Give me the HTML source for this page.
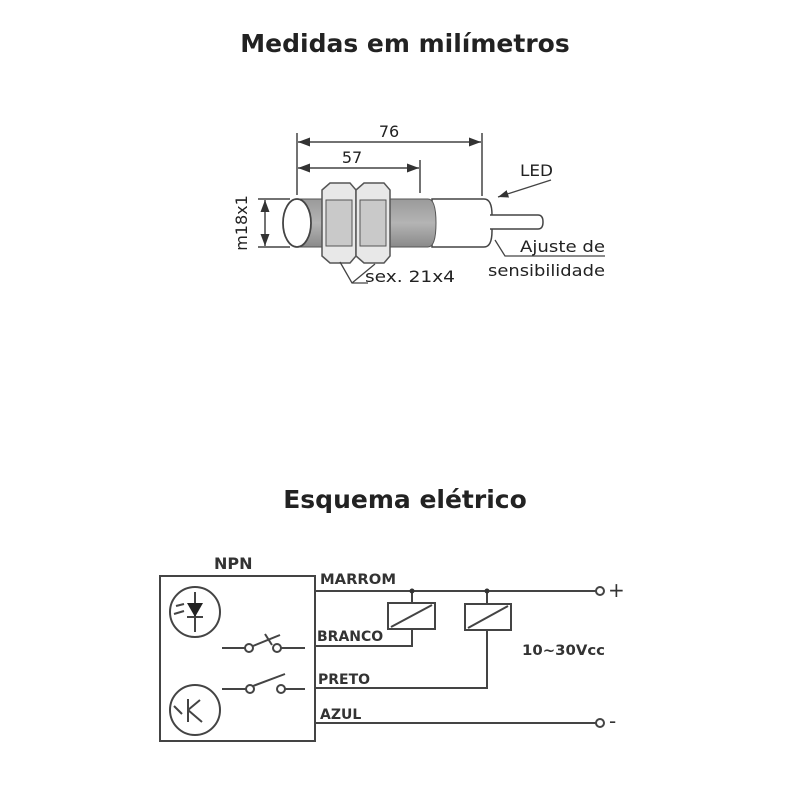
<!DOCTYPE html>
<html><head><meta charset="utf-8"><style>
body{margin:0;background:#fff;}
svg{display:block;}
text{font-family:"DejaVu Sans","Liberation Sans",sans-serif;}
</style></head><body>
<svg width="800" height="800" viewBox="0 0 800 800" xmlns="http://www.w3.org/2000/svg">
<defs>
<linearGradient id="g" x1="0" y1="0" x2="0" y2="1">
<stop offset="0" stop-color="#9a9a9a"/><stop offset="0.5" stop-color="#b4b4b4"/><stop offset="1" stop-color="#8a8a8a"/>
</linearGradient>
<marker id="a" markerWidth="8" markerHeight="6" refX="8" refY="3" orient="auto"><path d="M0,0 L8,3 L0,6z" fill="#333"/></marker>
<marker id="b" markerWidth="8" markerHeight="6" refX="0" refY="3" orient="auto"><path d="M8,0 L0,3 L8,6z" fill="#333"/></marker>
</defs>
<text x="405" y="52" font-size="25" font-weight="bold" text-anchor="middle" fill="#222">Medidas em milímetros</text>
<text x="405" y="508" font-size="25" font-weight="bold" text-anchor="middle" fill="#222">Esquema elétrico</text>

<g stroke="#444" stroke-width="1.5" fill="none">
<line x1="297" y1="133" x2="297" y2="195"/>
<line x1="482" y1="133" x2="482" y2="196"/>
<line x1="420" y1="160" x2="420" y2="193"/>
<line x1="298" y1="142" x2="481" y2="142" marker-start="url(#b)" marker-end="url(#a)"/>
<line x1="298" y1="168" x2="419" y2="168" marker-start="url(#b)" marker-end="url(#a)"/>
<line x1="258" y1="199" x2="290" y2="199"/>
<line x1="258" y1="247" x2="290" y2="247"/>
<line x1="265" y1="200" x2="265" y2="246" marker-start="url(#b)" marker-end="url(#a)"/>
</g>
<text x="389" y="137" font-size="16" text-anchor="middle" fill="#222">76</text>
<text x="352" y="163" font-size="16" text-anchor="middle" fill="#222">57</text>
<text transform="translate(247,223) rotate(-90)" font-size="16" text-anchor="middle" fill="#222">m18x1</text>

<path d="M432,199 L484,199 Q492,199 492,215 L492,231 Q492,247 484,247 L432,247 Z" fill="#fff" stroke="#444" stroke-width="1.5"/>
<path d="M490,215 L538,215 Q543,215 543,222 Q543,229 538,229 L490,229" fill="#fff" stroke="#444" stroke-width="1.5"/>
<path d="M297,199 L428,199 Q436,199 436,223 Q436,247 428,247 L297,247 Z" fill="url(#g)" stroke="#555" stroke-width="1"/>
<g fill="#e8e8e8" stroke="#555" stroke-width="1.5">
<path d="M322,190 L330,183 L350,183 L356,190 L356,256 L350,263 L330,263 L322,256 Z"/>
<path d="M326,200 L352,200 L352,246 L326,246 Z" fill="#c9c9c9" stroke-width="1"/>
<path d="M356,190 L364,183 L384,183 L390,190 L390,256 L384,263 L364,263 L356,256 Z"/>
<path d="M360,200 L386,200 L386,246 L360,246 Z" fill="#c9c9c9" stroke-width="1"/>
</g>
<ellipse cx="297" cy="223" rx="14" ry="24" fill="#fff" stroke="#444" stroke-width="1.8"/>
<g stroke="#444" stroke-width="1.3" fill="none">
<line x1="551" y1="180" x2="498" y2="197" marker-end="url(#a)"/>
<polyline points="495,240 505,256 605,256"/>
<polyline points="340,262 352,283 368,283"/>
<line x1="375" y1="264" x2="352" y2="283"/>
</g>
<text x="520" y="176" font-size="16" fill="#222" textLength="33" lengthAdjust="spacingAndGlyphs">LED</text>
<text x="520" y="252" font-size="16" fill="#222" textLength="85" lengthAdjust="spacingAndGlyphs">Ajuste de</text>
<text x="488" y="276" font-size="16" fill="#222" textLength="117" lengthAdjust="spacingAndGlyphs">sensibilidade</text>
<text x="365" y="282" font-size="16" fill="#222" textLength="90" lengthAdjust="spacingAndGlyphs">sex. 21x4</text>

<g stroke="#444" stroke-width="2" fill="none">
<rect x="160" y="576" width="155" height="165"/>
<line x1="315" y1="591" x2="596" y2="591"/>
<circle cx="600" cy="591" r="4"/>
<line x1="315" y1="723" x2="596" y2="723"/>
<circle cx="600" cy="723" r="4"/>
<polyline points="315,646 412,646 412,629"/>
<line x1="412" y1="591" x2="412" y2="603"/>
<rect x="388" y="603" width="47" height="26"/>
<line x1="391" y1="627" x2="432" y2="605"/>
<line x1="487" y1="591" x2="487" y2="604"/>
<rect x="465" y="604" width="46" height="26"/>
<line x1="468" y1="628" x2="508" y2="606"/>
<polyline points="487,630 487,688 315,688"/>
<circle cx="195" cy="612" r="25"/>
<circle cx="195" cy="710" r="25"/>
<line x1="222" y1="648" x2="245" y2="648"/>
<circle cx="249" cy="648" r="4"/>
<circle cx="277" cy="648" r="4"/>
<line x1="281" y1="648" x2="305" y2="648"/>
<line x1="253" y1="646" x2="280" y2="635"/>
<line x1="265" y1="634" x2="272" y2="645"/>
<line x1="222" y1="689" x2="246" y2="689"/>
<circle cx="250" cy="689" r="4"/>
<circle cx="281" cy="689" r="4"/>
<line x1="285" y1="689" x2="305" y2="689"/>
<line x1="253" y1="686" x2="285" y2="674"/>
<line x1="195" y1="592" x2="195" y2="632"/>
<line x1="187" y1="617" x2="203" y2="617"/>
<line x1="188" y1="699" x2="188" y2="722"/>
<line x1="188" y1="710" x2="200" y2="700"/>
<line x1="188" y1="710" x2="202" y2="722"/>
<line x1="176" y1="606" x2="184" y2="604"/>
<line x1="174" y1="614" x2="184" y2="611"/>
<line x1="174" y1="706" x2="182" y2="714"/>
</g>
<path d="M187,603 L203,603 L195,617 Z" fill="#222"/>
<circle cx="412" cy="591" r="2.5" fill="#333"/>
<circle cx="487" cy="591" r="2.5" fill="#333"/>
<g font-family="Liberation Sans,sans-serif" font-weight="bold" fill="#333" font-size="14">
<text x="214" y="569" font-size="16">NPN</text>
<text x="320" y="584" textLength="76" lengthAdjust="spacingAndGlyphs">MARROM</text>
<text x="317" y="641">BRANCO</text>
<text x="318" y="684">PRETO</text>
<text x="320" y="719">AZUL</text>
<text x="522" y="655" textLength="83" lengthAdjust="spacingAndGlyphs">10~30Vcc</text>
<text x="608" y="597" font-size="20" font-weight="normal">+</text>
<text x="609" y="728" font-size="20" font-weight="normal">-</text>
</g>
</svg>
</body></html>
